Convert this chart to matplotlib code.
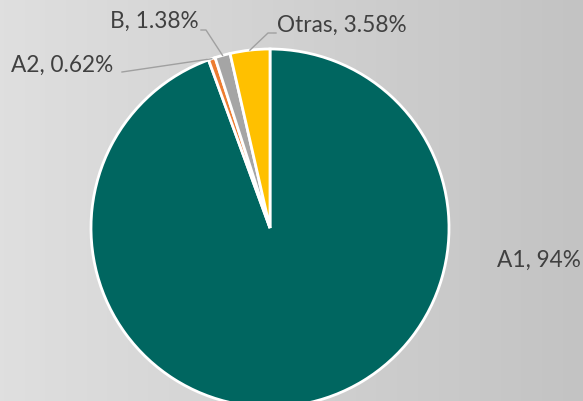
import numpy as np
import matplotlib.pyplot as plt

labels = ["A1", "A2", "B", "Otras"]
values = [94.42, 0.62, 1.38, 3.58]
label_text = ["A1, 94%", "A2, 0.62%", "B, 1.38%", "Otras, 3.58%"]
colors = ["#006660", "#ED7D31", "#A5A5A5", "#FFC000"]

plt.rcParams['font.family'] = ['Lato', 'DejaVu Sans']

W, H = 583, 401
fig = plt.figure(figsize=(W / 100, H / 100), dpi=100)
ax = fig.add_axes([0, 0, 1, 1])

# grey background, lighter on the left
grad = np.linspace(0.875, 0.765, 256).reshape(1, -1)
ax.imshow(np.dstack([grad, grad, grad]), extent=[0, W, 0, H], aspect='auto', zorder=0)

cx, cy, r = 270, H - 228, 179
wedges, _ = ax.pie(values, colors=colors, startangle=90, counterclock=False,
                   center=(cx, cy), radius=r, frame=True,
                   wedgeprops=dict(edgecolor='white', linewidth=2))
ax.set_xlim(0, W)
ax.set_ylim(0, H)
ax.set_aspect('equal')
ax.axis('off')
for w in wedges:
    w.set_zorder(2)

txt_col = '#404040'
fs = 16.3

# label positions (left edge x, centre y in image pixels)
pos = {
    "A1": (497, 260),
    "A2": (11, 65),
    "B": (110, 21),
    "Otras": (277, 25),
}
for lab, txt in zip(labels, label_text):
    x, y = pos[lab]
    ax.text(x, H - y, txt, ha='left', va='center', fontsize=fs, color=txt_col, zorder=3)

def edge_point(w, frac=1.0):
    ang = np.deg2rad((w.theta1 + w.theta2) / 2)
    return cx + r * frac * np.cos(ang), cy + r * frac * np.sin(ang)

lc = '#A0A0A0'
# A2 leader
px, py = edge_point(wedges[1])
ax.plot([122, px], [H - 72, py], color=lc, lw=1, zorder=3)
# B leader
px, py = edge_point(wedges[2])
ax.plot([201, 206, px], [H - 30, H - 30, py], color=lc, lw=1, zorder=3)
# Otras leader
px, py = edge_point(wedges[3])
ax.plot([276, 268, px], [H - 33, H - 33, py], color=lc, lw=1, zorder=3)

fig.savefig('out.png', dpi=100)
